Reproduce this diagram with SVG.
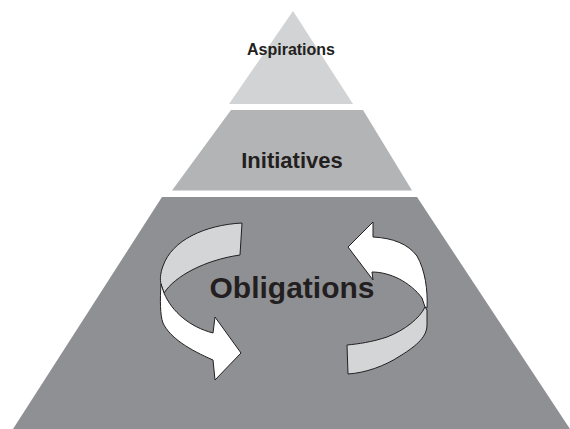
<svg xmlns="http://www.w3.org/2000/svg" width="570" height="429" viewBox="0 0 570 429">
  <style>
    .label { font-family: "Liberation Sans", Arial, sans-serif; font-weight: bold; fill: #231f20; text-anchor: middle; }
    .band { stroke: #231f20; stroke-width: 1; stroke-linejoin: round; }
    .back { fill: #d4d5d7; }
    .front { fill: #ffffff; }
  </style>
  <rect width="570" height="429" fill="#ffffff"/>

  <g id="aspirations">
    <polygon points="293,11 353,104 229,104" fill="#d1d3d4"/>
    <text class="label" x="291" y="55" font-size="16">Aspirations</text>
  </g>

  <g id="initiatives">
    <polygon points="231,110 363,110 412,190.5 172,190.5" fill="#b3b4b6"/>
    <text class="label" x="292" y="168" font-size="22">Initiatives</text>
  </g>

  <g id="obligations">
    <polygon points="162,197 417,197 570,429 13,429" fill="#8f9094"/>
    <text class="label" x="292" y="298" font-size="30">Obligations</text>
  </g>

  <g id="connectors">
    <!-- left loop: back strip then front strip ending in a right-pointing head -->
    <path class="band back" d="M242,223 C205,225 172,240 163,266 C160,274 160,280 161,284 L164,293 C175,276 205,260 240,255 Z"/>
    <path class="band front" d="M161,284 C160,300 160,315 163,323 C170,338 190,350 213,360 L215,380 L241,353 L215,317 L213,333 C190,327 172,312 164,293 Z"/>
    <!-- right loop: back strip then front strip ending in a left-pointing head -->
    <path class="band back" d="M425,307 C420,318 405,330 387,337 C372,342 358,344 347,345 L348,374 C365,373 385,366 400,356 C418,345 427,336 427,325 L427,310 Z"/>
    <path class="band front" d="M373,237 L373,222 L348,247 L373,280 L372,272 C390,272 410,282 422,298 L425,307 L427,308 C428,290 425,270 417,256 C408,244 393,238 373,237 Z"/>
  </g>
</svg>
